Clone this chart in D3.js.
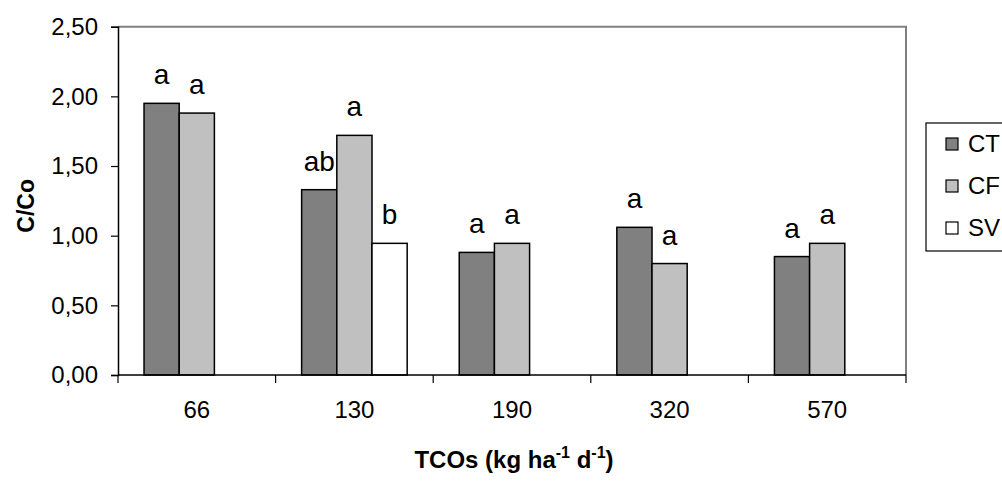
<!DOCTYPE html>
<html>
<head>
<meta charset="utf-8">
<script src="https://cdn.jsdelivr.net/npm/d3@7"></script>
<style>
  html, body { margin: 0; padding: 0; background: #ffffff; }
  svg { display: block; font-family: "Liberation Sans", Arial, sans-serif; }
</style>
</head>
<body>
<svg id="chart" width="1002" height="493"></svg>
<script>
// Loading rates (kg ha-1 d-1) on the x axis
const categories = ["66", "130", "190", "320", "570"];
const seriesNames = ["CT", "CF", "SV"];

// C/Co ratio per treatment (null = not measured)
const valuesCT = [1.95, 1.33, 0.88, 1.06, 0.85];
const valuesCF = [1.88, 1.72, 0.945, 0.80, 0.945];
const valuesSV = [null, 0.945, null, null, null];

// Significance letters over each bar
const lettersCT = ["a", "ab", "a", "a", "a"];
const lettersCF = ["a", "a", "a", "a", "a"];
const lettersSV = ["", "b", "", "", ""];

const yTicks = [0, 0.5, 1.0, 1.5, 2.0, 2.5];
const yTickLabels = ["0,00", "0,50", "1,00", "1,50", "2,00", "2,50"];

const seriesFill = { CT: "#808080", CF: "#c0c0c0", SV: "#ffffff" };

const margin = { left: 118, right: 96, top: 26.7, bottom: 118 };
const W = 1002, H = 493;
const plotW = W - margin.left - margin.right;
const plotH = H - margin.top - margin.bottom;

const svg = d3.select("#chart");
const g = svg.append("g").attr("transform", `translate(${margin.left},${margin.top})`);

const x0 = d3.scaleBand().domain(categories).range([0, plotW]).paddingInner(0).paddingOuter(0);
const x1 = d3.scaleBand().domain(seriesNames).range([0, x0.bandwidth()]).paddingInner(0).paddingOuter(0.74);
const y = d3.scaleLinear().domain([0, 2.5]).range([plotH, 0]);

// Plot frame: grey top and right edges
g.append("path")
  .attr("d", `M0,0H${plotW}V${plotH}`)
  .attr("fill", "none")
  .attr("stroke", "#808080")
  .attr("stroke-width", 2);

// Bars
const rows = [];
categories.forEach((c, i) => {
  const vals = { CT: valuesCT[i], CF: valuesCF[i], SV: valuesSV[i] };
  const lets = { CT: lettersCT[i], CF: lettersCF[i], SV: lettersSV[i] };
  seriesNames.forEach(s => {
    if (vals[s] != null) rows.push({ cat: c, series: s, value: vals[s], letter: lets[s] });
  });
});

g.selectAll("rect.bar")
  .data(rows)
  .join("rect")
  .attr("class", "bar")
  .attr("x", d => x0(d.cat) + x1(d.series))
  .attr("y", d => y(d.value))
  .attr("width", x1.bandwidth())
  .attr("height", d => plotH - y(d.value))
  .attr("fill", d => seriesFill[d.series])
  .attr("stroke", "#000")
  .attr("stroke-width", 1.5);

g.selectAll("text.letter")
  .data(rows.filter(d => d.letter))
  .join("text")
  .attr("class", "letter")
  .attr("x", d => x0(d.cat) + x1(d.series) + x1.bandwidth() / 2)
  .attr("y", d => y(d.value) - 19)
  .attr("text-anchor", "middle")
  .attr("font-size", 28)
  .attr("fill", "#000")
  .text(d => d.letter);

// Y axis
const yAxis = g.append("g")
  .call(d3.axisLeft(y).tickValues(yTicks).tickFormat((d, i) => yTickLabels[i]).tickSize(7).tickPadding(13));
yAxis.select(".domain").attr("stroke", "#000").attr("stroke-width", 1.5);
yAxis.selectAll(".tick line").attr("stroke", "#000").attr("stroke-width", 1.2);
yAxis.selectAll(".tick text").attr("font-size", 24).attr("font-family", "Liberation Sans, Arial, sans-serif").attr("fill", "#000");

// X axis: ticks at category boundaries, labels centred in each band
const xAxis = g.append("g").attr("transform", `translate(0,${plotH})`);
xAxis.append("line").attr("x1", 0).attr("x2", plotW).attr("stroke", "#000").attr("stroke-width", 1.5);
const bounds = categories.map(c => x0(c)).concat([plotW]);
xAxis.selectAll("line.tk")
  .data(bounds)
  .join("line")
  .attr("class", "tk")
  .attr("x1", d => d).attr("x2", d => d)
  .attr("y1", 0).attr("y2", 8)
  .attr("stroke", "#000").attr("stroke-width", 1.2);
xAxis.selectAll("text.cat")
  .data(categories)
  .join("text")
  .attr("class", "cat")
  .attr("x", d => x0(d) + x0.bandwidth() / 2)
  .attr("y", 43)
  .attr("text-anchor", "middle")
  .attr("font-size", 24)
  .text(d => d);

// Axis titles
svg.append("text")
  .attr("transform", `translate(34,${margin.top + plotH / 2 + 5}) rotate(-90)`)
  .attr("text-anchor", "middle")
  .attr("font-size", 23)
  .attr("font-weight", "bold")
  .text("C/Co");

const xt = svg.append("text")
  .attr("x", margin.left + plotW / 2 + 2)
  .attr("y", 468)
  .attr("text-anchor", "middle")
  .attr("font-size", 24)
  .attr("font-weight", "bold");
xt.append("tspan").text("TCOs (kg ha");
xt.append("tspan").attr("font-size", 16).attr("dy", -10).text("-1");
xt.append("tspan").attr("dy", 10).text(" d");
xt.append("tspan").attr("font-size", 16).attr("dy", -10).text("-1");
xt.append("tspan").attr("dy", 10).text(")");

// Legend (box runs off the right edge)
const lg = svg.append("g").attr("transform", "translate(926,123)");
lg.append("rect")
  .attr("x", 0).attr("y", 0).attr("width", 120).attr("height", 128)
  .attr("fill", "#fff").attr("stroke", "#000").attr("stroke-width", 1.2);
seriesNames.forEach((s, i) => {
  const cy = 21 + i * 42;
  lg.append("rect")
    .attr("x", 20).attr("y", cy - 6).attr("width", 12).attr("height", 12)
    .attr("fill", seriesFill[s]).attr("stroke", "#000").attr("stroke-width", 1.2);
  lg.append("text")
    .attr("x", 42).attr("y", cy + 8)
    .attr("font-size", 24)
    .text(s);
});
</script>
</body>
</html>
